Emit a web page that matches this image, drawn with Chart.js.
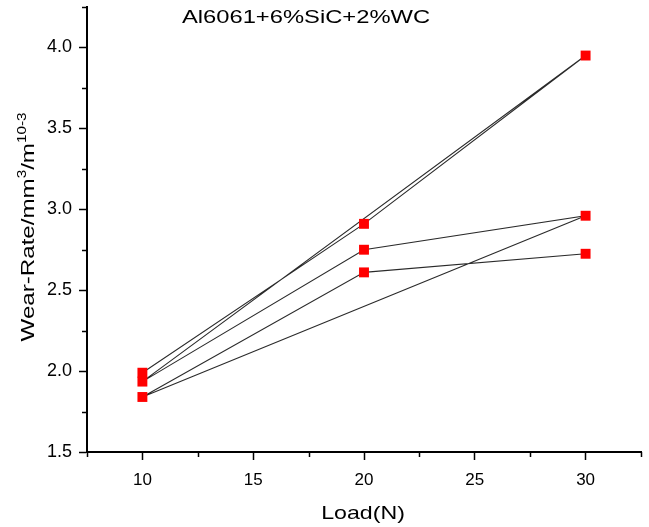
<!DOCTYPE html>
<html>
<head>
<meta charset="utf-8">
<script src="https://cdn.jsdelivr.net/npm/chart.js@4.4.0/dist/chart.umd.min.js"></script>
<style>
html,body{margin:0;padding:0;background:#fff}
</style>
</head>
<body>
<canvas id="wear_chart" width="649" height="527"></canvas>
<script>
// points in the order the original sheet joins them
const loads = [10, 20, 30, 10, 20, 30, 10, 20, 30];
const wearRate = [1.99, 2.91, 3.95, 1.935, 2.75, 2.96, 1.84, 2.61, 2.725];
const xTickLabels = [10, 15, 20, 25, 30];
const yTickLabels = [1.5, 2.0, 2.5, 3.0, 3.5, 4.0];
const chartTitle = 'Al6061+6%SiC+2%WC';
const xTitle = 'Load(N)';
const yTitle = [['Wear-Rate/mm', 0], ['3', 1], ['/m', 0], ['10-3', 1]];

const FONT = '"Liberation Sans", Arial, sans-serif';

// text in the picture is wider than plain Arial, so stretch it along its run
function stretchedText(ctx, parts, x, y, angle, sx, size, supSize) {
    ctx.save();
    ctx.translate(x, y);
    ctx.rotate(angle);
    ctx.scale(sx, 1);
    ctx.fillStyle = '#000';
    ctx.textBaseline = 'alphabetic';
    ctx.textAlign = 'left';
    let w = 0;
    parts.forEach(p => {
        ctx.font = (p[1] ? supSize : size) + 'px ' + FONT;
        w += ctx.measureText(p[0]).width;
    });
    let cx = -w / 2;
    parts.forEach(p => {
        ctx.font = (p[1] ? supSize : size) + 'px ' + FONT;
        ctx.fillText(p[0], cx, p[1] ? -size * 0.42 : 0);
        cx += ctx.measureText(p[0]).width;
    });
    ctx.restore();
}

const extras = {
    id: 'extras',
    afterDraw(chart) {
        const ctx = chart.ctx;
        // minor ticks
        ctx.save();
        ctx.strokeStyle = '#000';
        ctx.lineWidth = 1.5;
        const xs = chart.scales.x, ys = chart.scales.y;
        xs.ticks.forEach(t => {
            if (xTickLabels.includes(t.value)) return;
            const px = Math.round(xs.getPixelForValue(t.value)) + 0.5;
            ctx.beginPath();
            ctx.moveTo(px, xs.top);
            ctx.lineTo(px, xs.top + 5);
            ctx.stroke();
        });
        ys.ticks.forEach(t => {
            if (yTickLabels.includes(t.value)) return;
            const py = Math.round(ys.getPixelForValue(t.value)) + 0.5;
            ctx.beginPath();
            ctx.moveTo(ys.right, py);
            ctx.lineTo(ys.right - 5, py);
            ctx.stroke();
        });
        ctx.restore();

        stretchedText(ctx, [[chartTitle, 0]], 306, 23, 0, 1.25, 19, 12);
        stretchedText(ctx, [[xTitle, 0]], 363, 519, 0, 1.22, 19, 12);
        stretchedText(ctx, yTitle, 33.5, 227, -Math.PI / 2, 1.27, 19, 12);
    }
};

const ctx = document.getElementById('wear_chart').getContext('2d');
const wear_chart = new Chart(ctx, {
    type: 'scatter',
    data: {
        datasets: [{
            label: chartTitle,
            data: loads.map((x, i) => ({x: x, y: wearRate[i]})),
            showLine: true,
            borderColor: '#2a2a2a',
            borderWidth: 1.1,
            pointStyle: 'rect',
            pointRadius: 7,
            pointHoverRadius: 7,
            pointBackgroundColor: '#ff0000',
            pointBorderWidth: 0
        }]
    },
    options: {
        responsive: false,
        animation: false,
        layout: {padding: {top: 6, right: 8, left: 0, bottom: 0}},
        plugins: {
            legend: {display: false},
            tooltip: {enabled: false}
        },
        scales: {
            x: {
                type: 'linear',
                min: 7.5,
                max: 32.5,
                afterFit: s => {
                    s.height = 75;
                    s.paddingLeft = 0;
                    s.paddingRight = 0;
                },
                ticks: {
                    stepSize: 2.5,
                    autoSkip: false,
                    maxRotation: 0,
                    padding: 10,
                    color: '#000',
                    font: {family: FONT, size: 17},
                    callback: v => xTickLabels.includes(v) ? String(v) : ''
                },
                grid: {
                    drawOnChartArea: false,
                    tickLength: 8,
                    tickWidth: 1.5,
                    tickColor: c => xTickLabels.includes(c.tick && c.tick.value) ? '#000' : 'rgba(0,0,0,0)'
                },
                border: {color: '#000', width: 2}
            },
            y: {
                type: 'linear',
                min: 1.5,
                max: 4.25,
                afterFit: s => {
                    s.width = 87;
                    s.paddingTop = 0;
                    s.paddingBottom = 0;
                },
                ticks: {
                    stepSize: 0.25,
                    autoSkip: false,
                    padding: 7,
                    color: '#000',
                    font: {family: FONT, size: 18},
                    callback: v => yTickLabels.includes(v) ? v.toFixed(1) : ''
                },
                grid: {
                    drawOnChartArea: false,
                    tickLength: 8,
                    tickWidth: 1.5,
                    tickColor: c => yTickLabels.includes(c.tick && c.tick.value) ? '#000' : 'rgba(0,0,0,0)'
                },
                border: {color: '#000', width: 2}
            }
        }
    },
    plugins: [extras]
});
</script>
</body>
</html>
